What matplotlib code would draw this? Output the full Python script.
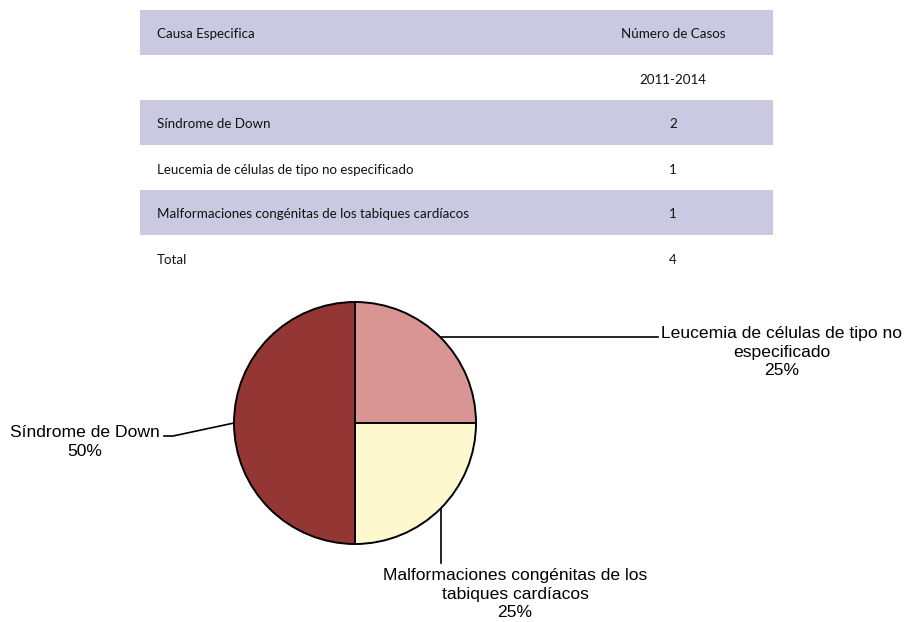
import numpy as np
import matplotlib.pyplot as plt

# table data
header = ["Causa Especifica", "Número de Casos"]
period = "2011-2014"
causes = ["Síndrome de Down",
          "Leucemia de células de tipo no especificado",
          "Malformaciones congénitas de los tabiques cardíacos"]
cases = [2, 1, 1]
total_label = "Total"

# pie labels (wrapped as in the original)
pie_labels = ["Síndrome de Down",
              "Leucemia de células de tipo no\nespecificado",
              "Malformaciones congénitas de los\ntabiques cardíacos"]
pie_colors = ["#943634", "#D99594", "#FEF8CF"]
shade = "#CBC8E1"

W, H = 905, 622
fig = plt.figure(figsize=(W / 100, H / 100), dpi=100)

# ---- table, drawn in pixel coordinates ----
tab = fig.add_axes([0, 0, 1, 1])
tab.set_xlim(0, W)
tab.set_ylim(H, 0)
tab.axis("off")

rows = [header, ["", period]]
rows += [[c, str(n)] for c, n in zip(causes, cases)]
rows += [[total_label, str(sum(cases))]]

left, right, top, row_h = 140, 773, 10, 45
col2_x = 673
for i, (a, b) in enumerate(rows):
    y0 = top + i * row_h
    if i % 2 == 0:
        tab.add_patch(plt.Rectangle((left, y0), right - left, row_h,
                                    facecolor=shade, edgecolor="none"))
    yc = y0 + row_h / 2 + 2
    tab.text(left + 17, yc, a, ha="left", va="center", fontsize=9.6,
             family="Lato", color="#111111")
    tab.text(col2_x, yc, b, ha="center", va="center", fontsize=9.6,
             family="Lato", color="#111111")

# ---- pie ----
cx, cy, r = 355, 423, 121
ax = fig.add_axes([(cx - r) / W, (H - cy - r) / H, 2 * r / W, 2 * r / H])
wedges, _ = ax.pie(cases, colors=pie_colors, startangle=-90, counterclock=False,
                   wedgeprops=dict(edgecolor="black", linewidth=1.4))
ax.set_xlim(-1, 1)
ax.set_ylim(-1, 1)
ax.set_aspect("equal")
ax.axis("off")

pct = [f"{round(100 * n / sum(cases))}%" for n in cases]
lab_font = dict(family="Liberation Sans", fontsize=12.6, color="black",
                linespacing=1.32)


def px(x, y):
    # figure pixel (from top-left) -> pie data units
    return (x - cx) / r, (cy - y) / r


for k, w in enumerate(wedges):
    ang = np.deg2rad((w.theta1 + w.theta2) / 2)
    sx, sy = np.cos(ang), np.sin(ang)
    txt = pie_labels[k] + "\n" + pct[k]
    if sx < -0.5:
        # left label: slanted leader with short horizontal tail
        mx, my = px(173, 436)
        ex, ey = px(164, 436)
        ax.plot([sx, mx, ex], [sy, my, ey], color="black", lw=1.2, clip_on=False)
        tx, ty = px(85, 442)
        ax.text(tx, ty, txt, ha="center", va="center", clip_on=False, **lab_font)
    elif sy > 0:
        ex, ey = px(658, 0)
        ax.plot([sx, ex], [sy, sy], color="black", lw=1.2, clip_on=False)
        tx, ty = px(782, 352)
        ax.text(tx, ty, txt, ha="center", va="center", clip_on=False, **lab_font)
    else:
        _, ey = px(0, 563)
        ax.plot([sx, sx], [sy, ey], color="black", lw=1.2, clip_on=False)
        tx, ty = px(515, 594)
        ax.text(tx, ty, txt, ha="center", va="center", clip_on=False, **lab_font)

fig.savefig("out.png", dpi=100, facecolor="white")
